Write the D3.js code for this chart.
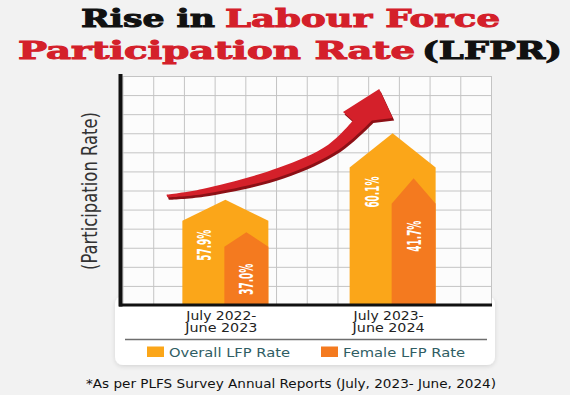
<!DOCTYPE html>
<html>
<head>
<meta charset="utf-8">
<script src="https://cdn.jsdelivr.net/npm/d3@7"></script>
<style>
  html, body { margin: 0; padding: 0; background: #f2f2f2; }
  svg { display: block; }
</style>
</head>
<body>
<div id="chart"></div>
<script>
// data
const periods = ["July 2022-June 2023", "July 2023-June 2024"];
const periodLines = [["July 2022-", "June 2023"], ["July 2023-", "June 2024"]];
const overallRate = [57.9, 60.1];
const femaleRate = [37.0, 41.7];
const seriesNames = ["Overall LFP Rate", "Female LFP Rate"];

const W = 570, H = 395;
const PLOT = { left: 122.5, right: 491, top: 76, bottom: 305 };
const GRID_N = 12;
const BAR_W = 86;
const COLORS = { overall: "#fba619", female: "#f47a1f", red: "#d4202a", darkRed: "#8c1016" };
// the infographic stretches the second period to show the rise
const STRETCH = [1.55, 2.45];

const svg = d3.select("#chart").append("svg")
    .attr("width", W)
    .attr("height", H);

const defs = svg.append("defs");
defs.append("filter").attr("id", "shadow")
    .attr("x", "-10%").attr("y", "-20%").attr("width", "120%").attr("height", "150%")
  .append("feDropShadow")
    .attr("dx", 0).attr("dy", 1.5).attr("stdDeviation", 2)
    .attr("flood-color", "#000").attr("flood-opacity", 0.12);

// ---- title ----
const titleFont = "'DejaVu Serif', serif";
const titleParts = [
    { t: "Rise in", x: 81, y: 27, len: 134, c: "#111" },
    { t: "Labour Force", x: 225, y: 27, len: 275, c: COLORS.red },
    { t: "Participation Rate", x: 18, y: 59, len: 397, c: COLORS.red },
    { t: "(LFPR)", x: 422, y: 59, len: 140, c: "#111" }
];
svg.append("g").attr("class", "title")
  .selectAll("text").data(titleParts).join("text")
    .attr("x", d => d.x).attr("y", d => d.y)
    .attr("textLength", d => d.len)
    .attr("lengthAdjust", "spacingAndGlyphs")
    .attr("font-family", titleFont)
    .attr("font-weight", "bold")
    .attr("font-size", 25)
    .attr("fill", d => d.c)
    .attr("stroke", d => d.c)
    .attr("stroke-width", 1)
    .text(d => d.t);

// ---- white card under the plot ----
svg.append("rect")
    .attr("x", 115).attr("y", 296).attr("width", 380).attr("height", 69)
    .attr("rx", 8)
    .attr("fill", "#fff")
    .attr("filter", "url(#shadow)");

// ---- grid ----
const xGrid = d3.scaleLinear().domain([0, GRID_N]).range([PLOT.left, PLOT.right]);
const yGrid = d3.scaleLinear().domain([0, GRID_N]).range([PLOT.top, PLOT.bottom]);

svg.append("rect")
    .attr("x", PLOT.left).attr("y", PLOT.top)
    .attr("width", PLOT.right - PLOT.left).attr("height", PLOT.bottom - PLOT.top)
    .attr("fill", "#fcfcfc");

const gGrid = svg.append("g").attr("class", "grid");
gGrid.append("g")
    .attr("transform", "translate(0," + PLOT.bottom + ")")
    .call(d3.axisBottom(xGrid).ticks(GRID_N).tickSize(-(PLOT.bottom - PLOT.top)).tickFormat(""));
gGrid.append("g")
    .attr("transform", "translate(" + PLOT.left + ",0)")
    .call(d3.axisLeft(yGrid).ticks(GRID_N).tickSize(-(PLOT.right - PLOT.left)).tickFormat(""));
gGrid.selectAll(".domain").remove();
gGrid.selectAll(".tick line").attr("stroke", "#c4c4c4").attr("stroke-width", 1);

// ---- red rising arrow (decoration, laid out in grid units) ----
const arrowUpper = [[1.43, 6.22], [2.6, 5.92], [5.1, 4.8], [6.7, 3.6], [7.5, 2.35]];
const arrowHead = [[7.18, 1.88], [8.36, 0.68], [8.8, 2.2], [8.12, 2.33]];
const arrowLower = [[8.12, 2.33], [7.05, 3.85], [5.2, 5.24], [2.6, 6.2], [1.46, 6.36]];

const curve = d3.line()
    .x(d => xGrid(d[0])).y(d => yGrid(d[1]))
    .curve(d3.curveCatmullRom);
const arrowPath = curve(arrowUpper)
    + arrowHead.map(d => "L" + xGrid(d[0]) + "," + yGrid(d[1])).join("")
    + curve(arrowLower).replace(/^M/, "L") + "Z";

svg.append("path")
    .attr("d", arrowPath)
    .attr("transform", "translate(1.5,2.5)")
    .attr("fill", COLORS.darkRed);
svg.append("path")
    .attr("d", arrowPath)
    .attr("fill", COLORS.red);

// ---- bars ----
const xScale = d3.scalePoint().domain(periods).range([125, 493]).padding(0.6);
const yScales = periods.map((p, i) => d3.scaleLinear()
    .domain([-10, 70])
    .range([PLOT.bottom, PLOT.bottom - 80 * STRETCH[i]]));

function arrowBar(x0, x1, yPeak, base) {
    const shoulder = base - 0.8 * (base - yPeak);
    return "M" + x0 + "," + base
        + "L" + x0 + "," + shoulder
        + "L" + (x0 + x1) / 2 + "," + yPeak
        + "L" + x1 + "," + shoulder
        + "L" + x1 + "," + base + "Z";
}
function shoulderY(yPeak) {
    return PLOT.bottom - 0.8 * (PLOT.bottom - yPeak);
}

const barData = [];
periods.forEach((p, i) => {
    const cx = xScale(p);
    const y = yScales[i];
    barData.push({ kind: "overall", x0: cx - BAR_W / 2, x1: cx + BAR_W / 2, v: overallRate[i], peak: y(overallRate[i]) });
    barData.push({ kind: "female", x0: cx - 1, x1: cx + BAR_W / 2, v: femaleRate[i], peak: y(femaleRate[i]) });
});

const gBars = svg.append("g").attr("class", "bars");
gBars.selectAll("path").data(barData).join("path")
    .attr("d", d => arrowBar(d.x0, d.x1, d.peak, PLOT.bottom))
    .attr("fill", d => COLORS[d.kind]);

const labelFont = "'Liberation Sans Narrow', 'DejaVu Sans Condensed', sans-serif";
gBars.selectAll("text").data(barData).join("text")
    .attr("transform", d => {
        const lx = d.kind === "overall" ? d.x0 + 22 : (d.x0 + d.x1) / 2;
        const ly = shoulderY(d.peak) + (d.kind === "overall" ? 9 : 17);
        return "translate(" + lx + "," + ly + ") rotate(-90)";
    })
    .attr("text-anchor", "end")
    .attr("dominant-baseline", "central")
    .attr("font-family", labelFont)
    .attr("font-weight", "bold")
    .attr("font-size", 19)
    .attr("textLength", 31)
    .attr("lengthAdjust", "spacingAndGlyphs")
    .attr("fill", "#fff")
    .text(d => d.v.toFixed(1) + "%");

// ---- axis lines ----
svg.append("line")
    .attr("x1", 119).attr("x2", 492)
    .attr("y1", PLOT.bottom).attr("y2", PLOT.bottom)
    .attr("stroke", "#111").attr("stroke-width", 3);
svg.append("line")
    .attr("x1", 120.5).attr("x2", 120.5)
    .attr("y1", 74).attr("y2", PLOT.bottom + 1.5)
    .attr("stroke", "#111").attr("stroke-width", 4);

// y axis title
svg.append("text")
    .attr("transform", "translate(89,191) rotate(-90)")
    .attr("text-anchor", "middle")
    .attr("dominant-baseline", "central")
    .attr("font-family", labelFont)
    .attr("font-size", 22)
    .attr("textLength", 158)
    .attr("lengthAdjust", "spacingAndGlyphs")
    .attr("fill", "#333")
    .text("(Participation Rate)");

// category labels
const catFont = "'DejaVu Sans', sans-serif";
const gCat = svg.append("g").attr("class", "categories");
periods.forEach((p, i) => {
    periodLines[i].forEach((line, j) => {
        gCat.append("text")
            .attr("x", xScale(p) - 4)
            .attr("y", 319.5 + j * 12.5)
            .attr("text-anchor", "middle")
            .attr("font-family", catFont)
            .attr("font-size", 11.5)
            .attr("textLength", j === 0 ? 70 : 72)
            .attr("lengthAdjust", "spacingAndGlyphs")
            .attr("fill", "#222")
            .text(line);
    });
});

// separator
svg.append("line")
    .attr("x1", 125).attr("x2", 487)
    .attr("y1", 339.5).attr("y2", 339.5)
    .attr("stroke", "#6e6e6e").attr("stroke-width", 1.5);

// legend
const legendX = [147, 321];
const legendLen = [121, 122];
const gLegend = svg.append("g").attr("class", "legend");
const items = gLegend.selectAll("g").data(seriesNames).join("g")
    .attr("transform", (d, i) => "translate(" + legendX[i] + ",346.5)");
items.append("rect")
    .attr("width", 17).attr("height", 10.5)
    .attr("fill", (d, i) => i === 0 ? COLORS.overall : COLORS.female);
items.append("text")
    .attr("x", 22).attr("y", 10)
    .attr("font-family", catFont)
    .attr("font-size", 12.5)
    .attr("textLength", (d, i) => legendLen[i])
    .attr("lengthAdjust", "spacingAndGlyphs")
    .attr("fill", "#2f5d63")
    .text(d => d);

// footnote
svg.append("text")
    .attr("x", 291).attr("y", 388)
    .attr("text-anchor", "middle")
    .attr("font-family", catFont)
    .attr("font-size", 12)
    .attr("textLength", 410)
    .attr("lengthAdjust", "spacingAndGlyphs")
    .attr("fill", "#111")
    .text("*As per PLFS Survey Annual Reports (July, 2023- June, 2024)");
</script>
</body>
</html>
